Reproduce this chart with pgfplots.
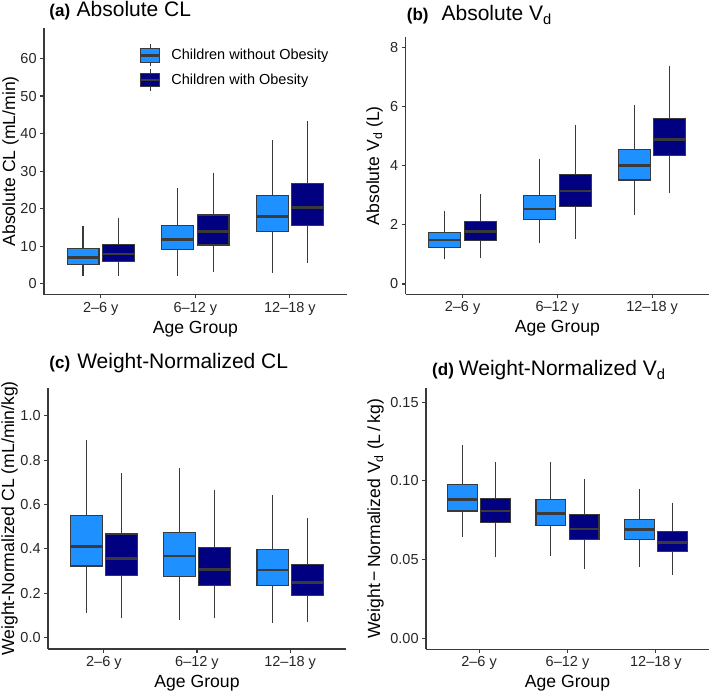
\documentclass[border=0pt]{standalone}
\usepackage{pgfplots}
\pgfplotsset{compat=1.18}
\usepgfplotslibrary{statistics}
\usepackage{fontspec}
\setmainfont{Liberation Sans}
\definecolor{lightb}{HTML}{1E90FF}
\definecolor{darkb}{HTML}{000080}
\definecolor{gline}{HTML}{3A3A3A}
\pgfplotsset{
  boxplot/draw direction=y,
  boxplot/box extend=0.3375,
  boxplot/whisker extend=0,
  boxplot/every median/.style={line width=2.8bp, draw=gline},
  bx/.style={fill=#1, draw=gline, line width=1.1bp},
  panel/.style={
    scale only axis,
    axis x line*=bottom, axis y line*=left,
    axis line style={-, draw=gline, line width=1.1bp},
    tick style={draw=gline, line width=1.1bp},
    tick align=outside, major tick length=3.7bp,
    xmin=0.4, xmax=3.6, xtick={1,2,3},
    xticklabels={2–6 y, 6–12 y, 12–18 y},
    /pgf/number format/assume math mode=true,
    scaled y ticks=false,
    ticklabel style={font=\fontsize{14.5bp}{17bp}\selectfont, text=black!85},
    xticklabel style={inner sep=0pt, yshift=-3.2bp},
    yticklabel style={inner sep=0pt, xshift=-3.5bp},
    xlabel={Age Group},
    label style={font=\fontsize{17.6bp}{20bp}\selectfont},
    xlabel style={at={(axis description cs:0.5,0)}, anchor=base, yshift=-38.5bp},
    title style={at={(axis description cs:0,1)}, anchor=base west, inner sep=0pt, align=left},
    clip=false,
  },
}
\newcommand{\lab}[1]{{\fontsize{17bp}{20bp}\selectfont\bfseries #1}}
\newcommand{\ttl}[1]{{\fontsize{21bp}{24bp}\selectfont #1}}
\begin{document}
\begin{tikzpicture}
\useasboundingbox (0,0) rectangle (709bp,692bp);
% (a)
\begin{axis}[panel, at={(44bp,397.2bp)}, anchor=south west,
  width=302.7bp, height=267.1bp,
  ymin=-2.96, ymax=68.2, ytick={0,10,20,30,40,50,60},
  ylabel={Absolute CL (mL/min)},
  ylabel style={at={(axis description cs:-0.0958,0.5)}, anchor=base},
  title={\lab{(a)}\hspace{6.4bp}\ttl{Absolute CL}},
  title style={xshift=5.3bp, yshift=5.2bp},
  legend style={at={(axis description cs:0,1)}, anchor=north west,
    xshift=95bp, yshift=-16bp, draw=none, fill=none, inner sep=0pt,
    font=\fontsize{14.5bp}{17bp}\selectfont, row sep=1.5bp,
    nodes={inner sep=2bp},
    /tikz/every odd column/.append style={column sep=8bp}},
  legend cell align=left]
\addplot[bx=lightb, boxplot prepared={draw position=0.8125, lower whisker=2.0, lower quartile=5.2, median=7.0, upper quartile=9.4, upper whisker=15.4},
  legend image code/.code={
    \draw[gline, line width=1.1bp] (9.65bp,-11bp) -- (9.65bp,11bp);
    \draw[gline, fill=lightb, line width=1.1bp] (0bp,-6.65bp) rectangle (19.3bp,6.65bp);
    \draw[gline, line width=2.8bp] (0bp,0bp) -- (19.3bp,0bp);}] coordinates {};
\addlegendentry{Children without Obesity}
\addplot[bx=darkb, boxplot prepared={draw position=1.1875, lower whisker=2.0, lower quartile=5.9, median=7.9, upper quartile=10.5, upper whisker=17.4},
  legend image code/.code={
    \draw[gline, line width=1.1bp] (9.65bp,-11bp) -- (9.65bp,11bp);
    \draw[gline, fill=darkb, line width=1.1bp] (0bp,-6.65bp) rectangle (19.3bp,6.65bp);
    \draw[gline, line width=2.8bp] (0bp,0bp) -- (19.3bp,0bp);}] coordinates {};
\addlegendentry{Children with Obesity}
\addplot[forget plot, bx=lightb, boxplot prepared={draw position=1.8125, lower whisker=2.0, lower quartile=9.0, median=11.8, upper quartile=15.4, upper whisker=25.4}] coordinates {};
\addplot[forget plot, bx=darkb, boxplot prepared={draw position=2.1875, lower whisker=3.2, lower quartile=10.3, median=13.8, upper quartile=18.3, upper whisker=29.6}] coordinates {};
\addplot[forget plot, bx=lightb, boxplot prepared={draw position=2.8125, lower whisker=2.9, lower quartile=13.8, median=17.8, upper quartile=23.6, upper whisker=38.2}] coordinates {};
\addplot[forget plot, bx=darkb, boxplot prepared={draw position=3.1875, lower whisker=5.6, lower quartile=15.4, median=20.2, upper quartile=26.8, upper whisker=43.4}] coordinates {};
\end{axis}
% (b)
\begin{axis}[panel, at={(405.7bp,397.5bp)}, anchor=south west,
  width=303.3bp, height=257.8bp,
  ymin=-0.355, ymax=8.37, ytick={0,2,4,6,8},
  ylabel={Absolute V\textsubscript{d} (L)},
  ylabel style={at={(axis description cs:-0.088,0.5)}, anchor=base},
  title={\lab{(b)}\hspace{13bp}\ttl{Absolute V\textsubscript{d}}},
  title style={xshift=1bp, yshift=10bp}]
\addplot[bx=lightb, boxplot prepared={draw position=0.8125, lower whisker=0.84, lower quartile=1.24, median=1.49, upper quartile=1.74, upper whisker=2.48}] coordinates {};
\addplot[bx=darkb, boxplot prepared={draw position=1.1875, lower whisker=0.87, lower quartile=1.47, median=1.77, upper quartile=2.11, upper whisker=3.04}] coordinates {};
\addplot[bx=lightb, boxplot prepared={draw position=1.8125, lower whisker=1.40, lower quartile=2.19, median=2.54, upper quartile=3.01, upper whisker=4.24}] coordinates {};
\addplot[bx=darkb, boxplot prepared={draw position=2.1875, lower whisker=1.53, lower quartile=2.62, median=3.15, upper quartile=3.72, upper whisker=5.38}] coordinates {};
\addplot[bx=lightb, boxplot prepared={draw position=2.8125, lower whisker=2.34, lower quartile=3.52, median=4.00, upper quartile=4.54, upper whisker=6.05}] coordinates {};
\addplot[bx=darkb, boxplot prepared={draw position=3.1875, lower whisker=3.07, lower quartile=4.35, median=4.88, upper quartile=5.59, upper whisker=7.39}] coordinates {};
\end{axis}
% (c)
\begin{axis}[panel, at={(48bp,43bp)}, anchor=south west,
  width=298bp, height=261bp,
  ymin=-0.051, ymax=1.125, ytick={0,0.2,0.4,0.6,0.8,1.0},
  yticklabel style={/pgf/number format/.cd, fixed, fixed zerofill, precision=1},
  ylabel={Weight-Normalized CL (mL/min/kg)},
  ylabel style={at={(axis description cs:-0.114,0.5)}, anchor=base},
  title={\lab{(c)}\hspace{7bp}\ttl{Weight-Normalized CL}},
  title style={xshift=1.3bp, yshift=13.7bp}]
\addplot[bx=lightb, boxplot prepared={draw position=0.8125, lower whisker=0.113, lower quartile=0.323, median=0.410, upper quartile=0.550, upper whisker=0.890}] coordinates {};
\addplot[bx=darkb, boxplot prepared={draw position=1.1875, lower whisker=0.087, lower quartile=0.279, median=0.357, upper quartile=0.467, upper whisker=0.740}] coordinates {};
\addplot[bx=lightb, boxplot prepared={draw position=1.8125, lower whisker=0.080, lower quartile=0.275, median=0.368, upper quartile=0.473, upper whisker=0.766}] coordinates {};
\addplot[bx=darkb, boxplot prepared={draw position=2.1875, lower whisker=0.087, lower quartile=0.234, median=0.308, upper quartile=0.407, upper whisker=0.665}] coordinates {};
\addplot[bx=lightb, boxplot prepared={draw position=2.8125, lower whisker=0.068, lower quartile=0.237, median=0.305, upper quartile=0.398, upper whisker=0.643}] coordinates {};
\addplot[bx=darkb, boxplot prepared={draw position=3.1875, lower whisker=0.072, lower quartile=0.189, median=0.249, upper quartile=0.330, upper whisker=0.538}] coordinates {};
\end{axis}
% (d)
\begin{axis}[panel, at={(426bp,42.5bp)}, anchor=south west,
  width=283bp, height=261.5bp,
  ymin=-0.0071, ymax=0.159, ytick={0,0.05,0.10,0.15},
  yticklabel style={/pgf/number format/.cd, fixed, fixed zerofill, precision=2},
  ylabel={Weight\,−\,Normalized V\textsubscript{d} (L\,/\,kg)},
  ylabel style={at={(axis description cs:-0.1625,0.5)}, anchor=base},
  title={\lab{(d)}\hspace{5bp}\ttl{Weight-Normalized V\textsubscript{d}}},
  title style={xshift=6bp, yshift=6.3bp}]
\addplot[bx=lightb, boxplot prepared={draw position=0.8125, lower whisker=0.0646, lower quartile=0.0809, median=0.0883, upper quartile=0.0979, upper whisker=0.1229}] coordinates {};
\addplot[bx=darkb, boxplot prepared={draw position=1.1875, lower whisker=0.0515, lower quartile=0.0735, median=0.0809, upper quartile=0.0890, upper whisker=0.1119}] coordinates {};
\addplot[bx=lightb, boxplot prepared={draw position=1.8125, lower whisker=0.0525, lower quartile=0.0716, median=0.0794, upper quartile=0.0879, upper whisker=0.1119}] coordinates {};
\addplot[bx=darkb, boxplot prepared={draw position=2.1875, lower whisker=0.0439, lower quartile=0.0625, median=0.0695, upper quartile=0.0788, upper whisker=0.1013}] coordinates {};
\addplot[bx=lightb, boxplot prepared={draw position=2.8125, lower whisker=0.0456, lower quartile=0.0625, median=0.0689, upper quartile=0.0756, upper whisker=0.0949}] coordinates {};
\addplot[bx=darkb, boxplot prepared={draw position=3.1875, lower whisker=0.0403, lower quartile=0.0551, median=0.0608, upper quartile=0.0678, upper whisker=0.0862}] coordinates {};
\end{axis}
\end{tikzpicture}
\end{document}
